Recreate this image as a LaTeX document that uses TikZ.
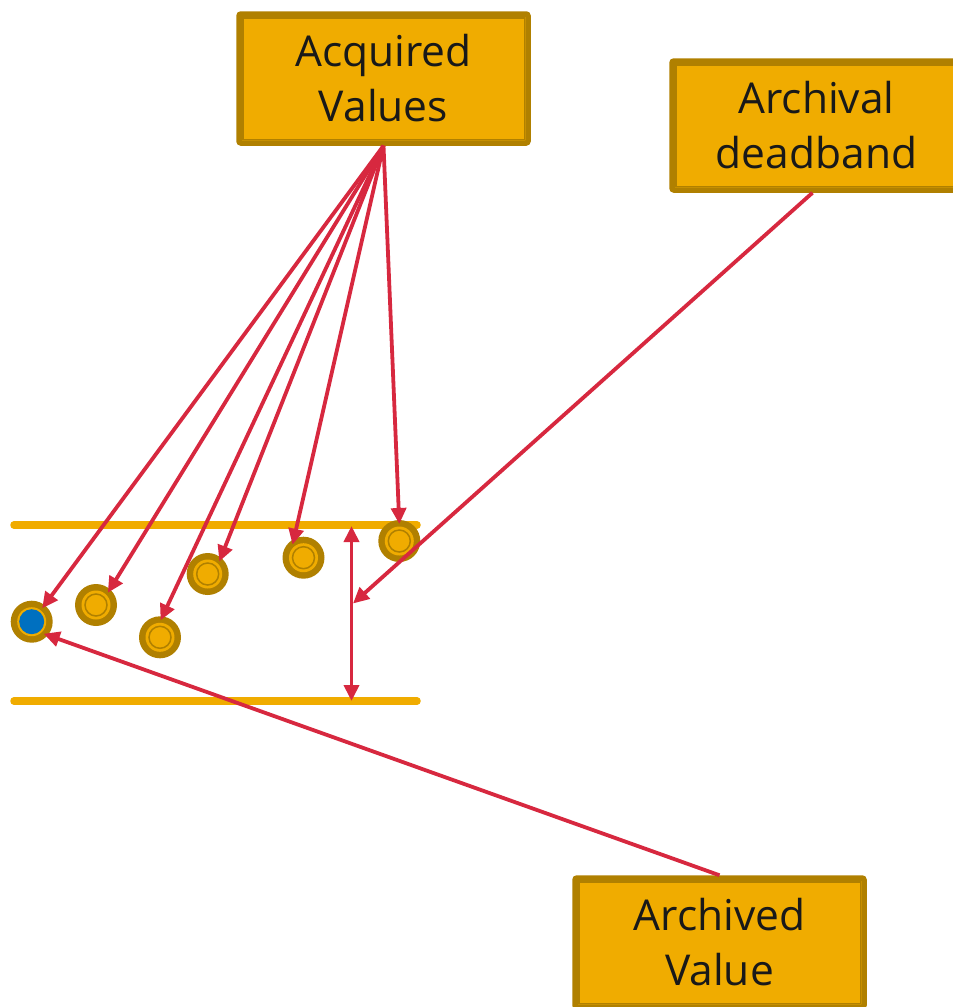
\documentclass[tikz,border=0pt]{standalone}
\usepackage{fontspec}
\setmainfont{Open Sans}
\usetikzlibrary{arrows.meta}
\definecolor{gold}{HTML}{F0AC00}
\definecolor{darkgold}{HTML}{B08000}
\definecolor{linkred}{HTML}{D7283F}
\definecolor{valblue}{HTML}{0070C0}
\tikzset{
  label box/.style={rectangle, draw=darkgold, line width=5.5pt, fill=gold,
    rounded corners=2pt, minimum width=289pt, minimum height=129pt,
    align=center, font=\fontsize{42.5}{55}\selectfont, text=black!90},
  inner frame/.style={draw=darkgold, line width=1.5pt},
  band/.style={draw=gold, line width=7.5pt, line cap=round},
  link/.style={draw=linkred, line width=3.8pt, -{Triangle[length=16pt,width=15pt]}},
  span/.style={draw=linkred, line width=3.8pt,
    {Triangle[length=16pt,width=15pt]}-{Triangle[length=16pt,width=15pt]}},
  sample/.style={circle, minimum size=34pt, inner sep=0pt, outer sep=0pt},
}
\begin{document}
\begin{tikzpicture}[x=1pt,y=-1pt]
\useasboundingbox (0,0) rectangle (953,1007);

% label boxes
\node[label box] (av) at (383.5,78.5) {Acquired\\Values};
\node[label box] (db) at (816.5,125.5) {Archival\\deadband};
\node[label box] (ar) at (719.5,942.5) {Archived\\Value};
\foreach \n in {av,db,ar}
  \draw[inner frame] ([xshift=6.5pt,yshift=-6.5pt]\n.north west)
    rectangle ([xshift=-6.5pt,yshift=6.5pt]\n.south east);

% deadband limits
\coordinate (tl) at (14,525);
\coordinate (tr) at (417,525);
\coordinate (bl) at (14,701);
\coordinate (br) at (417,701);
\draw[band] (tl) -- (tr);
\draw[band] (bl) -- (br);

% samples
\node[sample] (s1) at (31.7,621.7) {};
\node[sample] (s2) at (96,605) {};
\node[sample] (s3) at (160,637.3) {};
\node[sample] (s4) at (207.7,574) {};
\node[sample] (s5) at (303.5,557.7) {};
\node[sample] (s6) at (399.3,541) {};
\foreach \n in {s2,s3,s4,s5,s6} {
  \fill[darkgold] (\n) circle (21);
  \fill[gold] (\n) circle (14.5);
  \draw[darkgold, line width=1.5pt] (\n) circle (11);
}
\fill[darkgold] (s1) circle (21);
\fill[gold] (s1) circle (14.5);
\fill[valblue] (s1) circle (12.5);

% deadband span
\coordinate (st) at (351.5,526);
\coordinate (sb) at (351.5,701);
\coordinate (sm) at (353,603.5);
\draw[span] (st) -- (sb);

% connectors
\draw[link] (av.south) -- (s1.52);
\draw[link] (av.south) -- (s2.46);
\draw[link] (av.south) -- (s3.88);
\draw[link] (av.south) -- (s4.47);
\draw[link] (av.south) -- (s5.130);
\draw[link] (av.south) -- (s6.90);
\draw[link] ([xshift=-4pt]db.south) -- (sm);
\draw[link] (ar.north) -- (s1.-45);
\end{tikzpicture}
\end{document}
